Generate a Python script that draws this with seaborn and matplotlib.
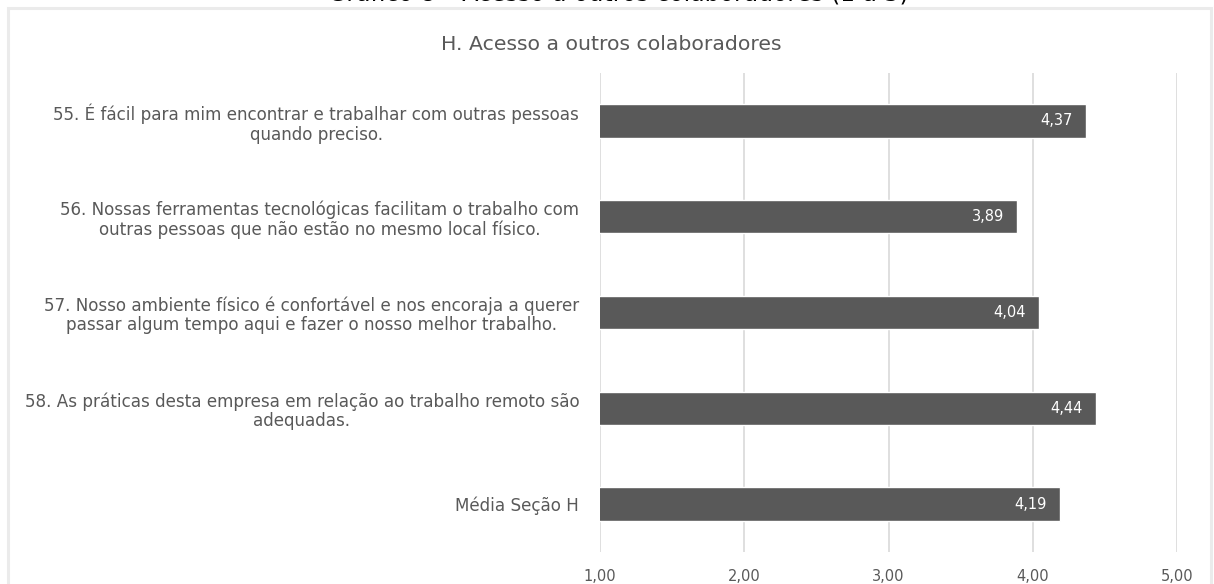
import matplotlib
matplotlib.use("Agg")
import matplotlib.pyplot as plt
from matplotlib.patches import Rectangle
import seaborn as sns
import pandas as pd

# Survey items (section H) and their mean scores on a 1-5 scale
items = [
    "55. É fácil para mim encontrar e trabalhar com outras pessoas\nquando preciso.",
    "56. Nossas ferramentas tecnológicas facilitam o trabalho com\noutras pessoas que não estão no mesmo local físico.",
    "57. Nosso ambiente físico é confortável e nos encoraja a querer\npassar algum tempo aqui e fazer o nosso melhor trabalho.",
    "58. As práticas desta empresa em relação ao trabalho remoto são\nadequadas.",
    "Média Seção H",
]
scores = [4.37, 3.89, 4.04, 4.44, 4.19]
x_ticks = [1, 2, 3, 4, 5]

chart_title = "H. Acesso a outros colaboradores"
caption = "Gráfico 8 – Acesso a outros colaboradores (1 a 5)"

BAR = "#595959"
TEXT = "#595959"
GRID = "#d9d9d9"

def br(v):
    return f"{v:.2f}".replace(".", ",")

sns.set_theme(style="white")
plt.rcParams["font.family"] = ["DejaVu Sans"]

df = pd.DataFrame({"item": items, "score": scores})

fig = plt.figure(figsize=(12.14, 5.84), dpi=100)
ax = fig.add_axes([600 / 1214, 1 - 552 / 584, 577 / 1214, (552 - 73) / 584])

sns.barplot(data=df, x="score", y="item", orient="h", color=BAR,
            saturation=1, width=0.35, ax=ax)

ax.set_xlim(1, 5)
ax.set_xticks(x_ticks)
ax.set_xticklabels([br(t) for t in x_ticks], color=TEXT, fontsize=10.5)
ax.grid(axis="x", color=GRID, linewidth=1.2)
ax.set_axisbelow(True)
ax.set_xlabel("")
ax.set_ylabel("")
for s in ax.spines.values():
    s.set_visible(False)
ax.tick_params(axis="x", length=0, pad=12)
ax.tick_params(axis="y", length=0, pad=15)
for lbl in ax.get_yticklabels():
    lbl.set_multialignment("center")
    lbl.set_color(TEXT)
    lbl.set_fontsize(12.1)
    lbl.set_linespacing(1.1)

for i, v in enumerate(scores):
    ax.annotate(br(v), xy=(v, i), xytext=(-9.5, 0), textcoords="offset points",
                ha="right", va="center", color="white", fontsize=10.5)

# Light frame around the chart area
fig.patches.append(Rectangle((8 / 1214, -0.05), (1211 - 8) / 1214, 1.05 - 7.5 / 584,
                             transform=fig.transFigure, fill=False,
                             edgecolor="#ebebeb", linewidth=2.2))

fig.text(611 / 1214, 1 - 45 / 584, chart_title, ha="center", va="center",
         color=TEXT, fontsize=14.7)
# Figure caption sits just above the chart frame (page edge trims it)
fig.text(618 / 1214, 1 - 1.5 / 584, caption, ha="center", va="baseline",
         color="black", fontsize=17)

fig.savefig("out.png", dpi=100, facecolor="white")
